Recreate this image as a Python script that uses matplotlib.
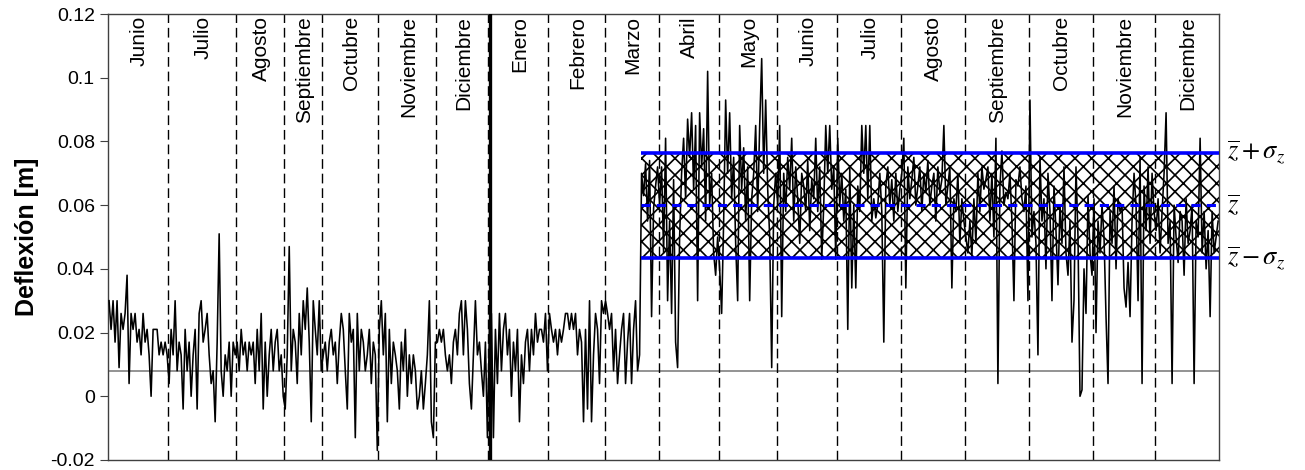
import numpy as np
import matplotlib
matplotlib.use("Agg")
import matplotlib.pyplot as plt
from matplotlib.transforms import blended_transform_factory

# month labels, in order of the record
months = ["Junio", "Julio", "Agosto", "Septiembre", "Octubre", "Noviembre", "Diciembre",
          "Enero", "Febrero", "Marzo", "Abril", "Mayo", "Junio", "Julio", "Agosto",
          "Septiembre", "Octubre", "Noviembre", "Diciembre"]

# daily deflection per month, in mm
junio_1 = [30, 21, 30, 17, 30, 9, 26, 21, 26, 38, 4, 26, 21, 26, 17, 21, 13, 26, 17, 21,
           13, 0, 21, 21, 21, 13, 17, 13, 17, 13]
julio_1 = [4, 21, 13, 30, 8, 17, 13, -4, 21, 8, 17, 0, 13, 21, -4, 26, 30, 17, 21, 26,
           13, 4, 8, -8, 17, 51, 8, 0, 13, 8, 17, 0, 17, 13]
agosto_1 = [17, 8, 21, 13, 17, 8, 17, 13, 17, 4, 21, 8, 26, -4, 17, 0, 13, 21, 8, 17,
            21, 8, 13, 0]
septiembre_1 = [-4, 13, 47, 8, 21, 17, 4, 26, 13, 30, 21, 34, 17, -8, 30, 21, 13, 30, 8]
octubre_1 = [13, 17, 8, 17, 21, 13, 17, 4, 17, 26, 21, 8, -4, 26, 17, 21, -13, 26, 8, 21,
             17, 8, 13, 21, 4, 17, 13, -17]
noviembre_1 = [21, 30, 13, 26, -8, 21, 4, 17, 13, 8, -4, 17, 8, 21, 0, 13, 4, 13, 8, -4,
               0, 8, -4, 4, 13, 30, -8, -13, 17]
diciembre_1 = [17, 21, 17, 21, 13, 8, 13, 4, 17, 21, 13, 26, 30, 13, 30, 21, 4, -4, 13, 30,
               13, 17, 8, 0, 17, -13]
enero = [21, 26, -13, 21, 4, 26, 8, 21, 26, 13, 21, 0, 17, 8, 21, -8, 13, 4, 17, 21,
         8, 21, 13, 26, 17, 21, 21, 17, 26, 8]
febrero = [26, 21, 17, 21, 13, 21, 17, 21, 26, 26, 21, 26, 21, 26, 13, 21, 17, -8, 21, -4,
           30, -8, 13, 26, 21, 4, 30, 26]
marzo = [30, 26, 21, 26, 8, 21, 4, 13, 21, 26, 4, 17, 26, 4, 21, 30, 8, 13,
         70, 63, 73, 55, 74, 25, 59, 66, 72]
abril = [60, 72, 45, 81, 30, 55, 26, 68, 17, 9, 50, 70, 81, 62, 87, 75, 89, 65, 85, 30,
         89, 72, 84, 55, 102, 60, 70, 45, 38, 50]
mayo = [40, 26, 55, 93, 70, 89, 62, 75, 48, 30, 85, 65, 78, 55, 72, 30, 62, 70, 85, 58,
        85, 106, 70, 93, 65, 50, 9, 60, 70]
junio_2 = [60, 85, 25, 70, 58, 75, 65, 81, 55, 72, 62, 48, 70, 66, 58, 74, 52, 68, 62, 81,
           58, 72, 43, 60, 85, 70, 85, 65, 72, 43]
julio_2 = [81, 60, 70, 55, 65, 21, 72, 34, 60, 34, 66, 58, 85, 70, 85, 62, 85, 55, 62, 56,
           60, 70, 58, 17, 66, 72, 60, 68, 55, 70, 58, 65]
agosto_2 = [70, 81, 34, 72, 62, 68, 75, 60, 66, 72, 58, 70, 64, 74, 60, 66, 70, 55, 72, 64,
            68, 85, 60, 66, 72, 34, 62, 58, 70, 48, 62, 55]
septiembre_2 = [50, 45, 55, 44, 62, 48, 70, 58, 72, 65, 68, 72, 55, 70, 50, 81, 4, 66, 77, 60,
                64, 62, 70, 55, 30, 68, 66, 72, 62, 58, 66, 30]
octubre_2 = [93, 50, 58, 48, 13, 75, 55, 62, 40, 70, 58, 30, 66, 52, 35, 60, 48, 72, 45, 38,
             55, 17, 30, 72, 50, 0, 2, 40, 26, 63, 45, 38]
noviembre_2 = [62, 20, 55, 45, 60, 50, 25, 4, 58, 48, 66, 40, 62, 58, 60, 34, 28, 42, 25, 55,
               70, 60, 30, 75, 4, 66, 52, 72, 48, 70, 58]
diciembre_2 = [52, 62, 45, 58, 70, 89, 48, 55, 4, 60, 50, 42, 58, 55, 38, 62, 48, 52, 60, 4,
               55, 50, 81, 45, 58, 40, 52, 25, 58, 45, 50, 55]

monthly = [junio_1, julio_1, agosto_1, septiembre_1, octubre_1, noviembre_1, diciembre_1,
           enero, febrero, marzo, abril, mayo, junio_2, julio_2, agosto_2, septiembre_2,
           octubre_2, noviembre_2, diciembre_2]

z_mean = 0.0599      # mean of the second period [m]
z_std = 0.0166       # standard deviation [m]
ref_level = 0.0079   # thin grey reference line [m]
second_start_day = 18  # day inside Marzo where the second period starts

deflection = np.concatenate([np.array(m, dtype=float) for m in monthly]) / 1000.0
n = len(deflection)
days = np.arange(n) + 0.5
bounds = np.cumsum([0] + [len(m) for m in monthly])
band_start = bounds[months.index("Marzo")] + second_start_day
year_change = bounds[months.index("Enero")] + 1

plt.rcParams["font.family"] = ["Liberation Sans", "DejaVu Sans"]
plt.rcParams["mathtext.fontset"] = "stix"
plt.rcParams["hatch.linewidth"] = 1.2

fig = plt.figure(figsize=(13.05, 4.70), dpi=100)
ax = fig.add_axes([0.0828, 0.0213, 0.8514, 0.9489])

# hatched band of +/- one standard deviation
ax.fill_between([band_start, n], z_mean - z_std, z_mean + z_std,
                facecolor="white", edgecolor="black", hatch="xx", linewidth=0, zorder=1)

ax.axhline(ref_level, color="#808080", lw=1.2, zorder=2)
for b in bounds[1:-1]:
    ax.axvline(b, color="black", lw=1, ls=(0, (7, 3.5)), zorder=2)
ax.axvline(year_change, color="black", lw=2.4, zorder=4)

ax.plot(days, deflection, color="black", lw=1.15, zorder=3)

ax.hlines([z_mean + z_std, z_mean - z_std], band_start, n, colors="#0000FF", lw=2.6, zorder=5)
ax.hlines(z_mean, band_start, n, colors="#0000FF", lw=2.2, linestyles=(0, (3, 2)), zorder=5)

# month names
tr = blended_transform_factory(ax.transData, ax.transAxes)
for i, name in enumerate(months):
    ax.text((bounds[i] + bounds[i + 1]) / 2 + 0.5, 0.995, name, rotation=90,
            ha="center", va="top", fontsize=15, transform=tr)

# right-hand labels
tr_r = blended_transform_factory(ax.transAxes, ax.transData)
ax.text(1.007, z_mean + z_std, r"$\overline{z}+\sigma_z$", transform=tr_r,
        ha="left", va="center", fontsize=19)
ax.text(1.007, z_mean, r"$\overline{z}$", transform=tr_r,
        ha="left", va="center", fontsize=19)
ax.text(1.007, z_mean - z_std, r"$\overline{z}-\sigma_z$", transform=tr_r,
        ha="left", va="center", fontsize=19)

ax.set_xlim(0, n)
ax.set_ylim(-0.02, 0.12)
ax.set_yticks(np.arange(-0.02, 0.1201, 0.02))
ax.set_yticklabels(["%g" % round(v, 2) for v in np.arange(-0.02, 0.1201, 0.02)])
ax.set_xticks([])
ax.tick_params(axis="y", labelsize=14, length=6, direction="out", color="#404040")
for s in ax.spines.values():
    s.set_color("#404040")
    s.set_linewidth(1)
ax.set_ylabel("Deflexión [m]", fontsize=18, fontweight="bold", labelpad=8)

fig.savefig("out.png", dpi=100)
